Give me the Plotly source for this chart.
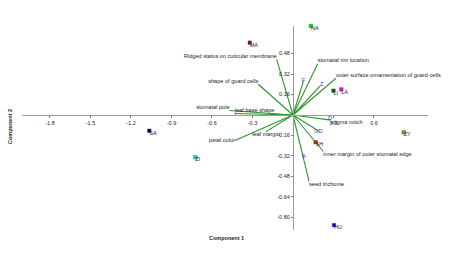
import plotly.graph_objects as go

# Species scores (Component 1, Component 2)
species = ["NA", "MA", "LI", "LA", "SA", "ZI", "ZY", "SH", "HU"]
sp_x = [0.133, -0.32, 0.30, 0.358, -1.064, -0.723, 0.82, 0.168, 0.304]
sp_y = [0.695, 0.565, 0.19, 0.20, -0.123, -0.33, -0.135, -0.213, -0.86]
sp_colors = ["#00ee00", "#800080", "#006400", "#ff00ff", "#000080", "#00e5ee", "#9a9a00", "#cc2200", "#0000ff"]

# small blue-labelled points
minor = ["F", "Z", "I", "D", "GD", "A"]
mi_x = [0.077, 0.212, -0.43, 0.274, 0.188, 0.081]
mi_y = [0.268, 0.234, 0.0, -0.031, -0.13, -0.325]

# Loadings (biplot vectors)
load_names = ["Ridged status on cuticular membrane", "shape of guard cells", "stomatal pole",
              "leaf base shape", "petal color", "leaf margin", "stomatal rim location",
              "outer surface ornamentation of guard cells", "", "", "stigma notch", "",
              "inner margin of outer stomatal edge", "seed trichome"]
load_x = [-0.121, -0.257, -0.47, -0.43, -0.43, -0.20, 0.183, 0.318, 0.077, 0.20, 0.28, 0.19, 0.225, 0.119]
load_y = [0.435, 0.24, 0.035, 0.012, -0.20, -0.13, 0.40, 0.287, 0.262, 0.225, -0.04, -0.125, -0.285, -0.518]
load_textpos = ["top left", "top left", "top left", "top right", "middle left", "bottom center",
                "top right", "top right", "top right", "top right", "bottom right", "bottom right",
                "bottom right", "bottom right"]

x_ticks = [-1.8, -1.5, -1.2, -0.9, -0.6, -0.3, 0.3, 0.6]
y_ticks = [0.48, 0.32, 0.16, -0.16, -0.32, -0.48, -0.64, -0.80]

W, H = 450, 256
x_range = [-2.007, 1.0]
y_range = [-0.898, 0.695]
x_dom = [22 / W, 428 / W]
y_dom = [26 / H, 230 / H]
FONT = "Liberation Sans, Arial"

fig = go.Figure()

# loading lines
for lx, ly in zip(load_x, load_y):
    fig.add_trace(go.Scatter(x=[0, lx], y=[0, ly], mode="lines",
                             line=dict(color="#2a962a", width=1.1),
                             hoverinfo="skip", showlegend=False))
fig.add_trace(go.Scatter(x=load_x, y=load_y, mode="text", text=load_names,
                         textposition=load_textpos,
                         textfont=dict(family=FONT, size=5.6, color="#222222"),
                         cliponaxis=False, showlegend=False))

# minor blue points
fig.add_trace(go.Scatter(x=mi_x, y=mi_y, mode="text", text=minor, textposition="middle center",
                         textfont=dict(family=FONT, size=5.6, color="#3030ff"),
                         cliponaxis=False, showlegend=False))

# species points
fig.add_trace(go.Scatter(x=sp_x, y=sp_y, mode="markers",
                         marker=dict(symbol="square", size=3.5, color=sp_colors,
                                     line=dict(color="#333333", width=0.4)),
                         cliponaxis=False, showlegend=False))
fig.add_trace(go.Scatter(x=sp_x, y=sp_y, mode="text", text=species,
                         textposition="bottom right",
                         textfont=dict(family=FONT, size=5.5, color="#222222"),
                         cliponaxis=False, showlegend=False))

tickfont = dict(family=FONT, size=5.5, color="#222222")
x0_paper = y_dom[0] + (0 - y_range[0]) / (y_range[1] - y_range[0]) * (y_dom[1] - y_dom[0])
y0_paper = x_dom[0] + (0 - x_range[0]) / (x_range[1] - x_range[0]) * (x_dom[1] - x_dom[0])

fig.update_layout(
    width=W, height=H, margin=dict(l=0, r=0, t=0, b=0),
    paper_bgcolor="white", plot_bgcolor="white",
    xaxis=dict(range=x_range, domain=x_dom, anchor="free", position=x0_paper,
               showgrid=False, zeroline=False, showline=True, linecolor="#9a9a9a", linewidth=1.2,
               tickvals=x_ticks, ticktext=[f"{v:g}" for v in x_ticks],
               ticks="outside", ticklen=2, tickcolor="#777777", tickfont=tickfont),
    yaxis=dict(range=y_range, domain=[1 - y_dom[1], 1 - y_dom[0]], anchor="free", position=y0_paper,
               showgrid=False, zeroline=False, showline=True, linecolor="#9a9a9a", linewidth=1.2,
               tickvals=y_ticks, ticktext=[f"{v:.2f}" for v in y_ticks],
               ticks="outside", ticklen=2, tickcolor="#777777", tickfont=tickfont),
    annotations=[
        dict(text="<b>Component 1</b>", x=226 / W, y=1 - 243 / H, xref="paper", yref="paper",
             showarrow=False, font=dict(family=FONT, size=5.5, color="#222222")),
        dict(text="<b>Component 2</b>", x=5 / W, y=1 - 127 / H, xref="paper", yref="paper",
             textangle=-90, showarrow=False,
             font=dict(family=FONT, size=5.5, color="#222222")),
    ],
)

fig.write_html("out.html")
